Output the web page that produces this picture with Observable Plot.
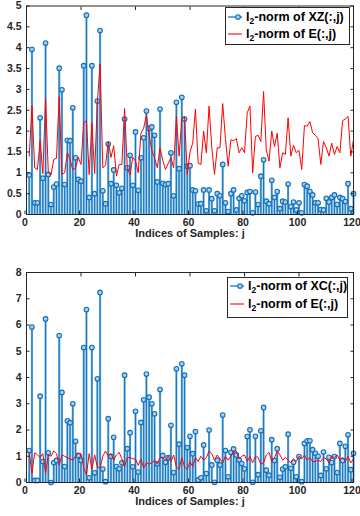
<!DOCTYPE html>
<html>
<head>
<meta charset="utf-8">
<script src="https://cdn.jsdelivr.net/npm/d3@7"></script>
<script src="https://cdn.jsdelivr.net/npm/@observablehq/plot@0.6"></script>
<style>
  body { margin: 0; background: #fff; }
  #wrap { position: relative; width: 360px; height: 516px; font-family: "Liberation Sans", Arial, sans-serif; }
  #wrap svg { display: block; }
  .legend { position: absolute; border: 1px solid #262626; background: #fff; box-sizing: border-box; }
  .row { position: absolute; left: 0; height: 16px; width: 100%; }
  .row svg { position: absolute; left: 0; top: 0; }
  .row span { position: absolute; left: 20px; top: 0; line-height: 16px; font-weight: bold; font-size: 12.5px; color: #000; white-space: nowrap; }
  .row sub { font-size: 8.5px; vertical-align: -3px; line-height: 0; }
</style>
</head>
<body>
<div id="wrap">
  <div id="top"></div>
  <div id="bottom"></div>
</div>
<script>
// ---- data ----
const samples = d3.range(1, 121); // sample index j = 1..120
const xTicks = [0, 20, 40, 60, 80, 100, 120];
const yTicksTop = [0, 0.5, 1, 1.5, 2, 2.5, 3, 3.5, 4, 4.5, 5];
const yTicksBottom = [0, 1, 2, 3, 4, 5, 6, 7, 8];
const xLabel = "Indices of Samples: j";

const normXZ = [0.95,3.96,0.28,0.28,2.32,0.87,4.11,0.96,0.24,0.66,
  0.73,3.51,2.99,0.72,1.78,1.77,2.56,1.36,0.84,0.80,
  3.57,4.78,0.41,3.57,0.50,2.72,4.41,0.57,0.26,1.69,
  0.74,1.07,0.70,0.52,0.63,2.29,1.12,1.42,0.70,1.98,
  0.58,1.36,1.84,2.48,2.07,2.10,1.90,0.78,2.53,0.75,
  0.72,0.74,1.48,0.45,2.69,1.10,2.81,2.29,1.16,1.17,
  0.59,0.57,0.25,0.26,0.59,0.09,0.59,0.38,0.09,0.50,
  0.45,1.20,0.28,0.07,0.50,0.59,0.11,0.39,0.45,0.33,
  0.53,0.55,0.04,0.54,0.24,0.92,1.31,0.32,0.26,0.82,
  0.41,0.55,0.14,0.32,0.30,0.73,0.19,0.30,0.11,0.28,
  0.04,0.72,0.68,0.55,0.47,0.28,0.28,0.12,0.11,0.39,
  0.30,0.41,0.47,0.24,0.41,0.38,0.31,0.74,0.14,0.50];

const normE1 = [1.40,2.61,1.12,1.08,1.77,0.98,2.78,1.00,0.95,1.32,
  1.35,2.82,0.96,1.00,1.48,1.32,1.07,1.12,1.37,1.20,
  2.20,2.25,0.96,2.20,0.98,2.70,3.61,1.12,1.18,1.75,
  1.37,1.65,0.92,1.20,1.20,2.54,1.12,0.95,1.37,1.28,
  1.00,1.95,2.07,2.39,1.90,1.54,1.36,1.12,1.60,1.30,
  1.08,1.22,1.36,1.12,2.35,1.40,2.29,2.35,0.96,1.50,
  1.71,2.53,1.23,1.20,2.00,1.48,2.60,1.60,0.96,1.60,
  1.60,2.66,1.82,1.16,1.79,1.77,1.82,1.48,1.60,1.48,
  2.44,2.60,1.00,1.87,1.90,1.75,2.95,1.54,1.28,2.00,
  1.63,1.95,1.12,1.48,1.44,2.32,1.40,1.66,1.48,1.54,
  1.08,2.13,2.12,2.23,1.96,1.90,1.82,1.20,1.75,1.60,
  1.40,1.71,1.44,1.63,1.48,2.25,2.29,2.35,1.40,1.79];

const normXC = [1.22,5.92,0.08,0.08,3.29,0.80,6.23,1.13,0.00,0.76,
  0.84,5.60,3.43,0.61,2.35,2.28,3.00,1.57,1.03,0.85,
  5.14,6.59,0.18,5.14,0.37,3.95,7.24,0.51,0.03,2.43,
  1.00,1.72,0.61,0.52,0.75,4.09,1.29,1.90,0.60,2.71,
  0.40,2.29,3.15,4.13,3.25,3.00,2.62,0.71,3.54,1.03,
  0.77,0.95,2.18,0.38,4.33,1.46,4.52,4.09,1.33,1.76,
  1.10,1.94,0.10,0.18,1.43,0.34,2.00,0.67,0.01,0.85,
  0.67,2.57,1.22,0.22,1.15,1.28,1.05,0.87,0.72,0.52,
  1.75,2.01,0.01,1.76,0.30,1.97,2.86,0.47,0.28,1.63,
  0.84,1.29,0.20,0.51,0.60,1.84,0.54,0.77,0.22,0.99,
  0.03,1.49,1.59,1.59,1.25,1.11,1.00,0.27,1.16,0.52,
  0.96,0.76,0.99,0.38,1.49,0.84,1.38,1.82,0.49,1.11];

const normE2 = [1.15,0.35,1.13,1.06,0.95,1.10,0.35,1.05,1.00,1.20,
  1.10,0.65,1.05,1.00,0.95,0.90,0.85,1.00,1.10,1.10,
  0.55,0.30,1.10,0.50,1.05,0.60,0.55,1.00,1.20,1.00,
  1.10,0.85,1.05,1.15,0.90,0.60,0.95,0.95,0.90,0.90,
  0.65,0.90,0.55,0.75,0.70,0.75,0.85,0.70,0.95,0.95,
  0.85,1.00,0.80,1.05,0.60,0.50,0.95,0.60,0.50,0.80,
  0.60,0.95,0.80,1.00,0.85,0.95,1.20,1.10,0.85,1.05,
  0.90,0.75,1.00,0.85,1.00,1.20,1.20,0.90,1.00,1.05,
  0.80,1.00,0.75,1.00,0.95,0.70,0.75,1.05,1.15,0.80,
  0.95,1.20,1.05,0.85,0.95,0.85,0.75,0.90,0.80,1.00,
  0.90,1.05,0.85,0.95,0.80,0.80,0.85,0.80,0.95,0.90,
  0.75,1.00,0.95,1.05,0.85,0.95,0.80,1.00,0.75,0.90];

const legendTop = ["XZ(:,j)", "E(:,j)"];
const legendBottom = ["XC(:,j)", "E(:,j)"];

// ---- styles ----
const INK = "#262626";
const STEM_LIGHT = "#6fb0e0";
const STEM_DARK = "#0b6db8";
const RED = "#ff0000";

function panel({values, errors, yDomain, yTicks, height, marginTop, marginBottom}) {
  const X = (d) => d;
  return Plot.plot({
    width: 360, height, marginLeft: 26, marginRight: 7, marginTop, marginBottom,
    x: {domain: [0, 120]},
    y: {domain: yDomain},
    style: {fontFamily: "'Liberation Sans', Arial, sans-serif", fontSize: "10.5px", fontWeight: "bold", color: INK, background: "white", overflow: "visible"},
    marks: [
      Plot.ruleX(samples, {x: X, y1: 0, y2: (d, i) => values[i], stroke: STEM_LIGHT, strokeWidth: 2.2}),
      Plot.ruleX(samples, {x: X, y1: 0, y2: (d, i) => values[i], stroke: STEM_DARK, strokeWidth: 0.9}),
      Plot.dot(samples, {x: X, y: (d, i) => values[i], r: 2.3, stroke: "#0f6fb9", strokeWidth: 1.1, fill: "#a9d0ee"}),
      Plot.line(samples, {x: X, y: (d, i) => errors[i], stroke: RED, strokeWidth: 1}),
      Plot.frame({stroke: INK, strokeWidth: 1}),
      Plot.axisX({anchor: "bottom", ticks: xTicks, tickSize: -3.5, tickPadding: 7.5, dx: -1.5, tickFormat: (d) => `${d}`, label: null, fontSize: 10.5, fontWeight: "bold"}),
      Plot.axisX({anchor: "top", ticks: xTicks, tickSize: -3.5, tickFormat: () => "", label: null}),
      Plot.axisY({anchor: "left", ticks: yTicks, tickSize: -3.5, tickPadding: 8.5, tickFormat: (d) => `${d}`, label: null, fontSize: 10.5, fontWeight: "bold"}),
      Plot.axisY({anchor: "right", ticks: yTicks, tickSize: -3.5, tickFormat: () => "", label: null}),
      Plot.text([xLabel], {frameAnchor: "bottom", dy: 22, text: (d) => d, fontSize: 11, fontWeight: "bold", fill: INK})
    ]
  });
}

document.getElementById("top").append(panel({
  values: normXZ, errors: normE1, yDomain: [0, 5], yTicks: yTicksTop,
  height: 258, marginTop: 5.5, marginBottom: 44
}));
document.getElementById("bottom").append(panel({
  values: normXC, errors: normE2, yDomain: [0, 8], yTicks: yTicksBottom,
  height: 258, marginTop: 14, marginBottom: 34
}));

function legend(labels, box) {
  const div = document.createElement("div");
  div.className = "legend";
  Object.assign(div.style, {left: box.left + "px", top: box.top + "px", width: box.width + "px", height: box.height + "px"});
  labels.forEach((lab, k) => {
    const row = document.createElement("div");
    row.className = "row";
    row.style.top = box.rows[k] + "px";
    const marker = k === 0
      ? `<line x1="2" y1="8" x2="16" y2="8" stroke="${STEM_DARK}" stroke-width="1.2"/><circle cx="12" cy="8" r="2.3" fill="#a9d0ee" stroke="#0f6fb9" stroke-width="1.1"/>`
      : `<line x1="2" y1="8" x2="16" y2="8" stroke="${RED}" stroke-width="1.1"/>`;
    row.innerHTML = `<svg width="20" height="16">${marker}</svg><span>l<sub>2</sub>-norm of ${lab}</span>`;
    div.append(row);
  });
  document.getElementById("wrap").append(div);
}
legend(legendTop, {left: 225, top: 7, width: 125, height: 38, rows: [1, 18]});
legend(legendBottom, {left: 227, top: 277, width: 121, height: 41, rows: [0, 18]});
</script>
</body>
</html>
